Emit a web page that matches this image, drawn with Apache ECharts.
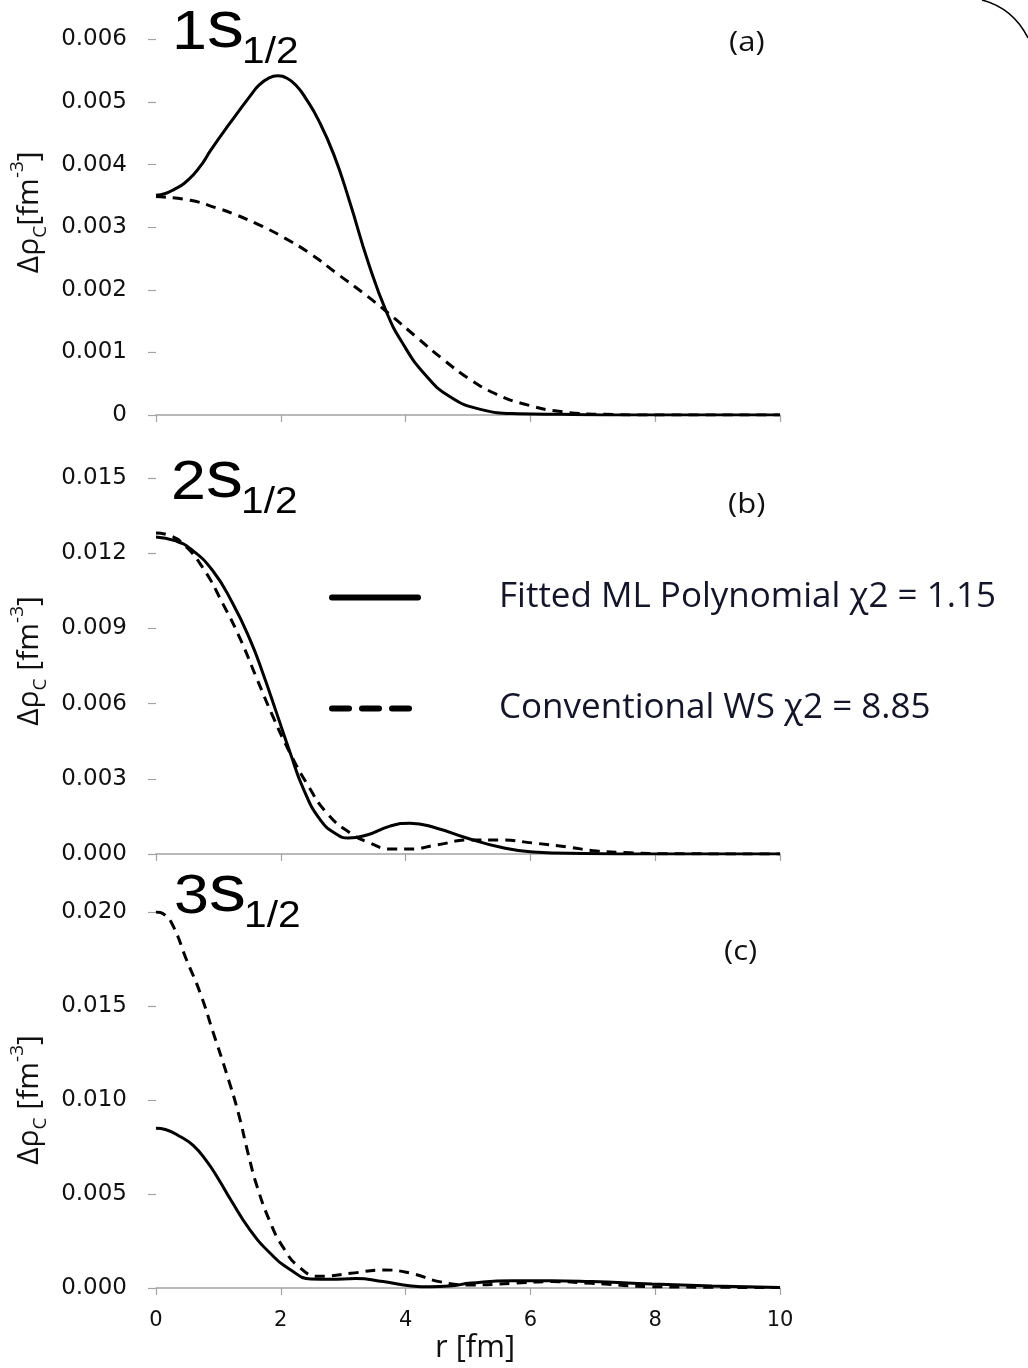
<!DOCTYPE html>
<html>
<head>
<meta charset="utf-8">
<script src="https://cdn.jsdelivr.net/npm/echarts@6/dist/echarts.min.js"></script>
<style>
  html, body { margin: 0; padding: 0; background: #ffffff; }
  #chart { width: 1028px; height: 1368px; }
</style>
</head>
<body>
<div id="chart"></div>
<script>
// Charge-density differences Δρ_C (fm^-3) versus radius r (fm)
// for the 1s1/2, 2s1/2 and 3s1/2 orbitals: ML polynomial fit vs. Woods–Saxon.

const r1sFit   = [0, 0.15, 0.3, 0.45, 0.6, 0.75, 0.87, 1.19, 1.51, 1.65, 1.8, 1.95, 2.1, 2.25, 2.4, 2.6, 2.85, 3.1, 3.4, 3.7, 3.95, 4.3, 4.7, 5.2, 5.8, 6.5, 7.5, 8.5, 10];
const rho1sFit = [0.00351, 0.00354, 0.00361, 0.00370, 0.00384, 0.00403, 0.00422, 0.00467, 0.00510, 0.00527, 0.00538, 0.00542, 0.00538, 0.00526, 0.00506, 0.00472, 0.00416, 0.00342, 0.00244, 0.00163, 0.00115, 0.00066, 0.00030, 0.00009, 0.00002, 0.00001, 0, 0, 0];
const r1sWS    = [0, 0.55, 1.0, 1.23, 1.67, 2.04, 2.47, 2.9, 3.32, 3.72, 4.18, 4.6, 5.03, 5.46, 5.88, 6.52, 7.2, 8, 10];
const rho1sWS  = [0.00349, 0.00343, 0.00330, 0.00322, 0.00303, 0.00284, 0.00258, 0.00226, 0.00195, 0.00163, 0.00124, 0.00089, 0.00057, 0.00033, 0.00018, 0.00005, 0.00001, 0, 0];

const r2sFit   = [0, 0.3, 0.55, 0.91, 1.23, 1.51, 1.71, 1.94, 2.15, 2.36, 2.63, 2.9, 3.08, 3.38, 3.75, 4.07, 4.5, 4.98, 5.51, 6.04, 6.84, 8, 10];
const rho2sFit = [0.01265, 0.01250, 0.01218, 0.01130, 0.00999, 0.00853, 0.00723, 0.00557, 0.00404, 0.00261, 0.00137, 0.00078, 0.00064, 0.00076, 0.00111, 0.00123, 0.00103, 0.00064, 0.00028, 0.00008, 0.00002, 0, 0];
const r2sWS    = [0, 0.2, 0.43, 0.75, 1.07, 1.35, 1.62, 1.88, 2.15, 2.42, 2.74, 3.11, 3.43, 3.75, 4.07, 4.5, 5.03, 5.51, 6.04, 6.59, 7.07, 7.6, 8.2, 10];
const rho2sWS  = [0.01281, 0.01272, 0.01238, 0.01142, 0.00999, 0.00858, 0.00697, 0.00545, 0.00402, 0.00280, 0.00163, 0.00084, 0.00044, 0.00020, 0.00020, 0.00036, 0.00056, 0.00056, 0.00044, 0.00028, 0.00012, 0.00005, 0.00001, 0];

const r3sFit   = [0, 0.15, 0.4, 0.6, 0.8, 1.0, 1.2, 1.5, 1.83, 2.16, 2.48, 2.8, 3.2, 3.64, 4.09, 4.4, 4.7, 5.05, 5.7, 6.34, 6.98, 7.95, 8.91, 10];
const rho3sFit = [0.00850, 0.00843, 0.00803, 0.00757, 0.00680, 0.00580, 0.00468, 0.00312, 0.00185, 0.00096, 0.00048, 0.00046, 0.00050, 0.00034, 0.00011, 0.00006, 0.00010, 0.00026, 0.00039, 0.00039, 0.00034, 0.00021, 0.00011, 0.00003];
const r3sWS    = [0, 0.14, 0.28, 0.49, 0.71, 0.92, 1.13, 1.32, 1.48, 1.62, 1.83, 2.03, 2.29, 2.61, 3.12, 3.64, 4.09, 4.54, 5.05, 5.7, 6.34, 6.98, 7.95, 8.91, 10];
const rho3sWS  = [0.0200, 0.01985, 0.01922, 0.01745, 0.01568, 0.01355, 0.01142, 0.0093, 0.0071, 0.0054, 0.00350, 0.00220, 0.00113, 0.00062, 0.00078, 0.00096, 0.00078, 0.00034, 0.00016, 0.00025, 0.00034, 0.00025, 0.00007, 0.00004, 0.00002];

// tick labels
const rTicks   = ['0', '2', '4', '6', '8', '10'];
const yTicks1s = ['0', '0.001', '0.002', '0.003', '0.004', '0.005', '0.006'];
const yTicks2s = ['0.000', '0.003', '0.006', '0.009', '0.012', '0.015'];
const yTicks3s = ['0.000', '0.005', '0.010', '0.015', '0.020'];

const FIT_NAME = 'Fitted ML Polynomial χ2 = 1.15';
const WS_NAME  = 'Conventional WS χ2 = 8.85';

const zip = (xs, ys) => xs.map((x, i) => [x, ys[i]]);

const AXIS_GREY = '#a3a3a3';
const TEXT = '#111111';

const panels = [
  { top: 39.5, height: 375.5, max: 0.006, step: 0.001, ticks: yTicks1s, fit: zip(r1sFit, rho1sFit), ws: zip(r1sWS, rho1sWS), yName: '{m|Δρ}{s|C}{m|[fm}{p|-3}{m|]}' },
  { top: 478,  height: 376,   max: 0.015, step: 0.003, ticks: yTicks2s, fit: zip(r2sFit, rho2sFit), ws: zip(r2sWS, rho2sWS), yName: '{m|Δρ}{s|C}{m| [fm}{p|-3}{m|]}' },
  { top: 912,  height: 376,   max: 0.020, step: 0.005, ticks: yTicks3s, fit: zip(r3sFit, rho3sFit), ws: zip(r3sWS, rho3sWS), yName: '{m|Δρ}{s|C}{m| [fm}{p|-3}{m|]}' }
];

const grid = panels.map(p => ({ left: 156, width: 624, top: p.top, height: p.height }));

const xAxis = panels.map((p, i) => ({
  type: 'value', gridIndex: i, min: 0, max: 10, interval: 2,
  axisLine: { show: true, lineStyle: { color: AXIS_GREY, width: 1.5 } },
  axisTick: { show: true, length: 7, lineStyle: { color: AXIS_GREY, width: 1.2 } },
  splitLine: { show: false },
  axisLabel: {
    show: i === 2, margin: 22, color: TEXT, fontFamily: 'DejaVu Sans', fontSize: 21,
    formatter: v => rTicks[Math.round(v / 2)]
  },
  name: i === 2 ? 'r [fm]' : '',
  nameLocation: 'middle', nameGap: 45,
  nameTextStyle: { fontFamily: 'Open Sans', fontSize: 31, color: TEXT, padding: [0, 0, 0, 14] }
}));

const yAxis = panels.map((p, i) => ({
  type: 'value', gridIndex: i, min: 0, max: p.max, interval: p.step,
  axisLine: { show: false },
  axisTick: { show: true, length: 8, lineStyle: { color: AXIS_GREY, width: 1.2 } },
  splitLine: { show: false },
  axisLabel: {
    margin: 29, color: TEXT, fontFamily: 'DejaVu Sans', fontSize: 23,
    formatter: v => p.ticks[Math.round(v / p.step)]
  },
  name: p.yName, nameLocation: 'middle', nameRotate: 90, nameGap: 91,
  nameTextStyle: {
    color: TEXT, fontFamily: 'Open Sans',
    padding: i === 0 ? [0, 0, 0, 30] : (i === 1 ? [0, 0, 0, 10] : 0),
    rich: {
      m: { fontFamily: 'Open Sans', fontSize: 30, lineHeight: 42, color: TEXT },
      s: { fontFamily: 'Open Sans', fontSize: 19, lineHeight: 24, verticalAlign: 'bottom', color: TEXT },
      p: { fontFamily: 'Open Sans', fontSize: 19, lineHeight: 24, verticalAlign: 'top', color: TEXT }
    }
  }
}));

const series = [];
panels.forEach((p, i) => {
  series.push({
    name: FIT_NAME, type: 'line', xAxisIndex: i, yAxisIndex: i, data: p.fit,
    smooth: 0.5, symbol: 'none', showSymbol: false, silent: true,
    lineStyle: { color: '#000', width: 3, type: 'solid' }, itemStyle: { color: '#000' }
  });
  series.push({
    name: WS_NAME, type: 'line', xAxisIndex: i, yAxisIndex: i, data: p.ws,
    smooth: 0.5, symbol: 'none', showSymbol: false, silent: true,
    lineStyle: { color: '#000', width: 3, type: [10, 7] }, itemStyle: { color: '#000' }
  });
});

// orbital titles and panel tags
function orbitalTitle(main, x, base) {
  return [
    { type: 'text', x: x, y: base, scaleX: 1.12,
      style: { text: '{a|' + main[0] + '}{b|' + main[1] + '}', verticalAlign: 'bottom',
        rich: {
          a: { fontFamily: 'Liberation Sans', fontSize: 56, lineHeight: 56, verticalAlign: 'bottom', fill: '#000' },
          b: { fontFamily: 'Liberation Sans', fontSize: 66, lineHeight: 66, verticalAlign: 'bottom', fill: '#000' }
        } } },
    { type: 'text', x: x + 70, y: base + 9, scaleX: 1.1,
      style: { text: '1/2', fontFamily: 'Liberation Sans', fontSize: 37, fill: '#000', verticalAlign: 'bottom' } }
  ];
}
function panelTag(t, x, cy) {
  return { type: 'text', x: x, y: cy, scaleX: 1.15,
    style: { text: t, fontFamily: 'Open Sans', fontSize: 27, fill: TEXT, verticalAlign: 'middle' } };
}

const graphic = [].concat(
  orbitalTitle('1s', 172, 62),
  orbitalTitle('2s', 171, 512),
  orbitalTitle('3s', 174, 926),
  [panelTag('(a)', 729, 43), panelTag('(b)', 728, 505), panelTag('(c)', 724, 952)],
  [{ type: 'bezierCurve', shape: { x1: 982, y1: 0, cpx1: 1013, cpy1: 8, x2: 1028, y2: 38 },
     style: { stroke: '#000', lineWidth: 1.5, fill: null } }]
);

const chart = echarts.init(document.getElementById('chart'), null, { renderer: 'canvas' });
chart.setOption({
  backgroundColor: '#ffffff',
  animation: false,
  grid, xAxis, yAxis, series, graphic,
  legend: {
    orient: 'vertical', left: 324, top: 575, itemWidth: 86, itemHeight: 12, itemGap: 76,
    selectedMode: false,
    textStyle: { fontFamily: 'Open Sans', fontSize: 35, color: '#15152a', padding: [0, 0, 0, 76] },
    data: [
      { name: FIT_NAME, itemStyle: { opacity: 0 }, lineStyle: { width: 6, type: 'solid', cap: 'round', color: '#000' } },
      { name: WS_NAME,  itemStyle: { opacity: 0 }, lineStyle: { width: 6, type: [17, 13], cap: 'round', color: '#000' } }
    ]
  }
});
</script>
</body>
</html>
